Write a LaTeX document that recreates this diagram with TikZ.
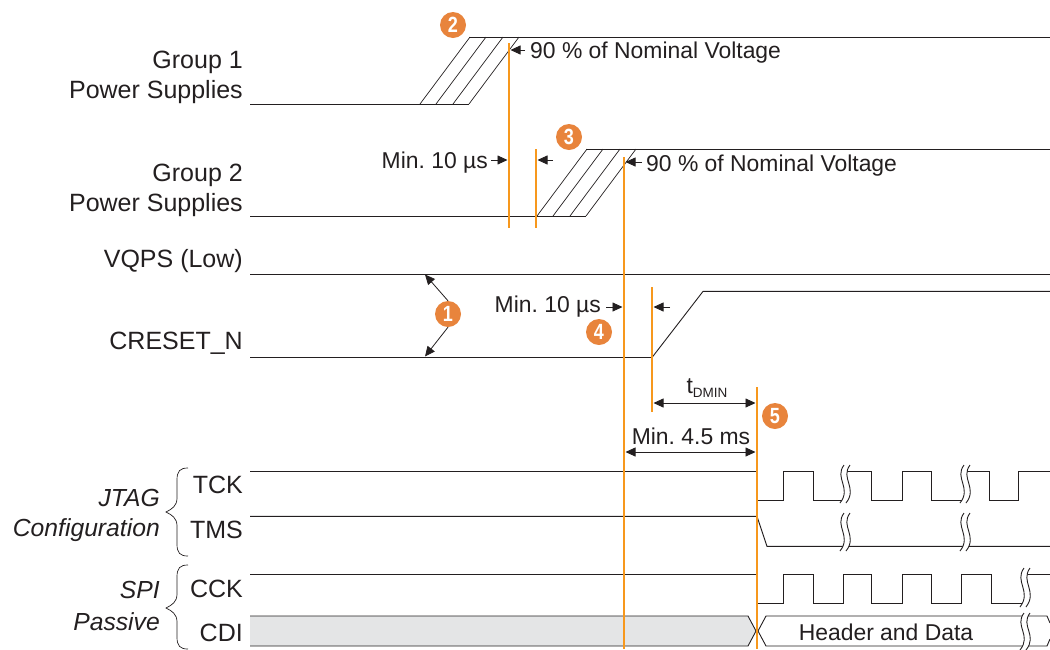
\documentclass[tikz,border=0pt]{standalone}
\usepackage{fontspec}
\setmainfont{Liberation Sans}
\usetikzlibrary{arrows.meta,calc,positioning}
\definecolor{inkdark}{HTML}{231F20}
\definecolor{railorange}{HTML}{F7981D}
\definecolor{badgeorange}{HTML}{E8843C}
\definecolor{busgrey}{HTML}{E4E5E6}
\newcommand{\bnum}[1]{\scalebox{.82}[1]{#1}}
\frenchspacing
\tikzset{
  lbl/.style={font=\fontsize{25}{26}\selectfont, text=inkdark, inner sep=0pt, anchor=base east},
  note/.style={lbl, font=\fontsize{22.9}{24}\selectfont, anchor=base west},
  grp/.style={lbl, font=\fontsize{24.7}{26}\selectfont\itshape},
  sig/.style={draw=inkdark, line width=0.9pt, line join=miter},
  hatch/.style={draw=inkdark, line width=0.7pt},
  wig/.style={draw=inkdark, line width=0.9pt},
  rail/.style={draw=railorange, line width=2.4pt},
  gap/.style={draw=inkdark, line width=0.8pt, -{Triangle[length=10pt,width=9pt]}},
  span/.style={draw=inkdark, line width=0.8pt, {Triangle[length=10pt,width=9pt]}-{Triangle[length=10pt,width=9pt]}},
  badge/.style={circle, fill=badgeorange, text=white, inner sep=0pt, minimum size=26pt, font=\fontsize{22}{22}\selectfont\bfseries},
}
\begin{document}
\begin{tikzpicture}[x=1pt, y=-1pt]
\useasboundingbox (0,0) rectangle (1050,649);

% supply ramps
\foreach \xa in {420,436,453,469}{
  \draw[hatch] (\xa,104) -- ++(50,-67);
}
\foreach \xa in {537,553,570,586}{
  \draw[hatch] (\xa,216) -- ++(50,-67);
}
\draw[sig] (250,104) -- (469,104);
\draw[sig] (469,37) -- (1050,37);
\draw[sig] (250,216) -- (586,216);
\draw[sig] (586,149) -- (1050,149);

% reset lines
\draw[sig] (250,274) -- (1050,274);
\draw[sig] (250,357.5) -- (652,357.5) -- (703,291.4) -- (1050,291.4);

% clocks and data
\draw[sig] (250,471) -- (757,471) (757,500.5) -- (783.5,500.5) |- (813,471) |- (845,500.5)
  (845,471) -- (871,471) |- (902,500.5) |- (931,471) |- (965,500.5)
  (965,471) -- (989,471) |- (1018,500.5) |- (1050,471);
\draw[sig] (250,516.4) -- (757,516.4) -- (767,546.4) -- (1050,546.4);
\draw[sig] (250,574) -- (757,574) (757,603) -- (783.5,603) |- (813,574) |- (843,603) |- (871,574)
  |- (902,603) |- (931,574) |- (961,603) |- (991,574) |- (1024,603)
  (1024,574) -- (1050,574);
\draw[sig, fill=busgrey] (250,616) -- (748,616) -- (756,631) -- (748,646) -- (250,646);
\draw[sig] (1050,623) -- (1047,616) -- (766,616) -- (758,631) -- (766,646) -- (1047,646) -- (1050,639);

% line breaks
\foreach \bx/\by/\bh in {839/465/38, 959/465/38, 839/513/38, 959/513/38, 1019/568/39, 1019/613/37}{
  \fill[white] (\bx+5,\by) .. controls (\bx-5,\by+0.35*\bh) and (\bx+13,\by+0.6*\bh) .. (\bx+1,\by+\bh)
    -- (\bx+7,\by+\bh) .. controls (\bx+19,\by+0.6*\bh) and (\bx+1,\by+0.35*\bh) .. (\bx+11,\by) -- cycle;
  \draw[wig] (\bx+5,\by) .. controls (\bx-5,\by+0.35*\bh) and (\bx+13,\by+0.6*\bh) .. (\bx+1,\by+\bh);
  \draw[wig] (\bx+11,\by) .. controls (\bx+1,\by+0.35*\bh) and (\bx+19,\by+0.6*\bh) .. (\bx+7,\by+\bh);
}

% orange markers
\foreach \xa/\ya/\yb in {509/43/228, 536/149/228, 624/157/649, 652/287/412, 757/387/649}{
  \draw[rail] (\xa,\ya) -- (\xa,\yb);
}

% signal names
\node[lbl] (grpa) at (243,68) {Group 1};
\node[lbl] (psa) at (243,98) {Power Supplies};
\node[lbl] (grpb) at (243,181) {Group 2};
\node[lbl] (psb) at (243,211) {Power Supplies};
\node[lbl] (vqps) at (243,267) {VQPS (Low)};
\node[lbl] (creset) at (243,349) {CRESET\_N};
\node[lbl] (tck) at (243,493) {TCK};
\node[lbl] (tms) at (243,538) {TMS};
\node[lbl] (cck) at (243,597) {CCK};
\node[lbl] (cdi) at (243,641) {CDI};
\node[grp] (jtag) at (160,506) {JTAG};
\node[grp] (config) at (160,536) {Configuration};
\node[grp] (spi) at (160,598) {SPI};
\node[grp] (passive) at (160,630) {Passive};

% braces
\foreach \yt/\ym/\yb in {468/512/556, 565/608/649}{
  \draw[hatch] (188,\yt) .. controls (180,\yt) and (177,\yt+3) .. (177,\yt+12) -- (177,\ym-14)
    .. controls (177,\ym-6) and (172,\ym-3) .. (166,\ym)
    .. controls (172,\ym+3) and (177,\ym+6) .. (177,\ym+14) -- (177,\yb-12)
    .. controls (177,\yb-3) and (180,\yb) .. (188,\yb);
}

% timing notes
\node[note] (nomc) at (530,58) {90 \% of Nominal Voltage};
\node[note] (nomd) at (646,171) {90 \% of Nominal Voltage};
\node[note, anchor=base east] (mina) at (488,168) {Min. 10 µs};
\node[note, anchor=base east] (minb) at (601,312) {Min. 10 µs};
\node[note, anchor=base] (tdmin) at (707,393) {t\raisebox{-4pt}{\fontsize{13.5}{14}\selectfont DMIN}};
\node[note, anchor=base] (minc) at (691,444) {Min. 4.5 ms};
\node[note, anchor=base] (hdr) at (886,640) {Header and Data};

\draw[gap] (525,50) -- (510.5,50);
\draw[gap] (491,160) -- (507.5,160);
\draw[gap] (553,160) -- (537.5,160);
\draw[gap] (642,162) -- (625.5,162);
\draw[gap] (606,307) -- (622.5,307);
\draw[gap] (670,307) -- (653.5,307);
\draw[span] (653.5,403) -- (755.5,403);
\draw[span] (625.5,452) -- (755.5,452);

% numbered badges
\node[badge] (one) at (448,314) {\bnum{1}};
\node[badge] (two) at (453,25) {\bnum{2}};
\node[badge] (three) at (569,137) {\bnum{3}};
\node[badge] (four) at (599,332) {\bnum{4}};
\node[badge] (five) at (775,416) {\bnum{5}};
\coordinate (vqpsmark) at (425,274.5);
\coordinate (resetmark) at (425,356.5);
\draw[gap] (one.north) -- (vqpsmark);
\draw[gap] (one.south) -- (resetmark);

\end{tikzpicture}
\end{document}
